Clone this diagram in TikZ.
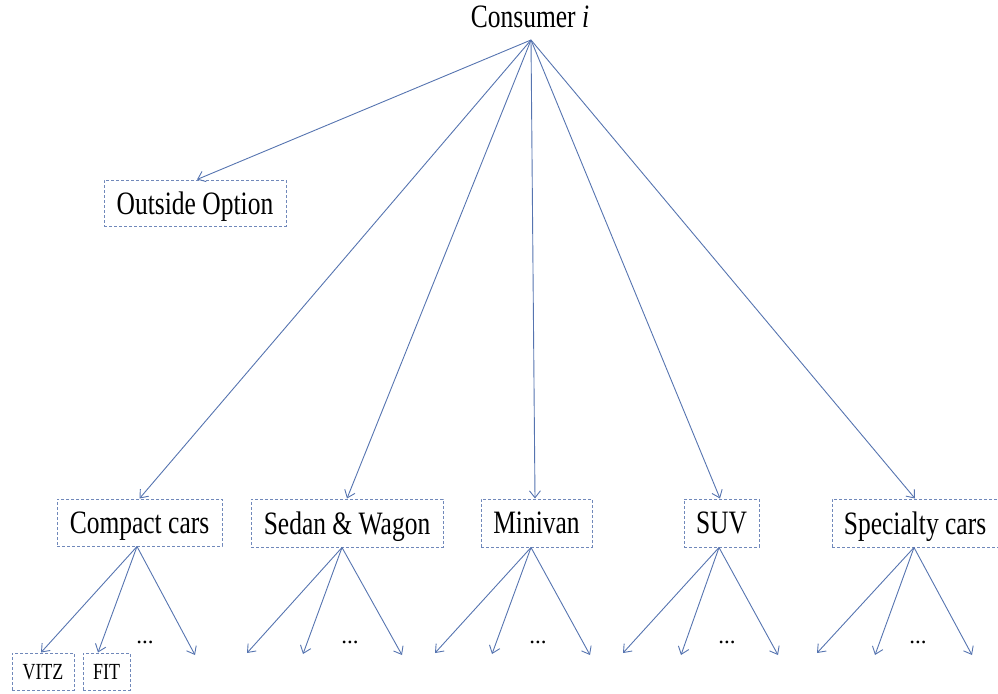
\documentclass[tikz,border=0pt]{standalone}
\usepackage{fontspec}
\setmainfont{Liberation Serif}
\usetikzlibrary{arrows.meta}
\definecolor{linec}{RGB}{86,116,176}
\definecolor{boxc}{RGB}{112,136,186}
\newcommand{\vstr}[1]{\scalebox{1}[1.28]{#1}}
\tikzset{
  conn/.style={draw=linec, line width=0.9pt, -{Straight Barb[length=7pt,width=11pt,line width=0.9pt]}},
  catbox/.style={draw=boxc, line width=1pt, dash pattern=on 3pt off 2pt, inner sep=0pt,
    font=\fontsize{25.5}{30}\selectfont, text=black, text depth=0pt},
  modbox/.style={draw=boxc, line width=1pt, dash pattern=on 3pt off 2pt, inner sep=0pt,
    font=\fontsize{18}{22}\selectfont, text=black, minimum height=37pt, text depth=0pt},
  dots/.style={inner sep=0pt, font=\fontsize{23}{26}\selectfont}
}
\begin{document}
\begin{tikzpicture}[x=1pt,y=-1pt]
\useasboundingbox (0,0) rectangle (998,693);
\clip (0,0) rectangle (998,693);
% root
\node[anchor=base, inner sep=0pt, font=\fontsize{25.5}{30}\selectfont] (root) at (530,28) {\vstr{Consumer \textit{i}}};
\coordinate (apex) at (531,40);
% categories
\node[catbox, minimum width=182pt, minimum height=46pt] (outside) at (195,203) {\vstr{Outside Option}};
\node[catbox, minimum width=165pt, minimum height=47pt] (compact) at (139.5,522.5) {\vstr{Compact cars}};
\node[catbox, minimum width=192pt, minimum height=48pt] (sedan) at (347,523) {\vstr{Sedan \& Wagon}};
\node[catbox, minimum width=111pt, minimum height=48pt] (minivan) at (536.5,523) {\vstr{Minivan}};
\node[catbox, minimum width=75pt, minimum height=48pt] (suv) at (721.5,523) {\vstr{SUV}};
\node[catbox, minimum width=166pt, minimum height=48pt] (special) at (915,523) {\vstr{Specialty cars}};
% models
\node[modbox, minimum width=62pt] (vitz) at (43,671.5) {\vstr{VITZ}};
\node[modbox, minimum width=47pt] (fit) at (106.5,671.5) {\vstr{FIT}};
% top connectors
\draw[conn] (apex) -- ([xshift=2pt]outside.north);
\draw[conn] (apex) -- (compact.north);
\draw[conn] (apex) -- (sedan.north);
\draw[conn] (apex) -- ([xshift=-1.5pt]minivan.north);
\draw[conn] (apex) -- ([xshift=-1.5pt]suv.north);
\draw[conn] (apex) -- (special.north);
% bottom source points
\coordinate (cs) at ([xshift=-2.5pt]compact.south);
\coordinate (ss) at ([xshift=-5pt]sedan.south);
\coordinate (ms) at ([xshift=-5.5pt]minivan.south);
\coordinate (us) at ([xshift=-2.5pt]suv.south);
\coordinate (ps) at ([xshift=-1pt]special.south);
% free ends
\coordinate (c3) at (195,655);
\coordinate (s1) at (247,653); \coordinate (s2) at (303,654); \coordinate (s3) at (402,655);
\coordinate (m1) at (435,653); \coordinate (m2) at (492,654); \coordinate (m3) at (590,655);
\coordinate (u1) at (623,653); \coordinate (u2) at (681,655); \coordinate (u3) at (778,655);
\coordinate (p1) at (817,653); \coordinate (p2) at (875,655); \coordinate (p3) at (972,655);
% bottom connectors
\draw[conn] (cs) -- ([xshift=-2pt]vitz.north);
\draw[conn] (cs) -- ([xshift=-8.5pt]fit.north);
\draw[conn] (cs) -- (c3);
\foreach \s/\a/\b/\c in {ss/s1/s2/s3, ms/m1/m2/m3, us/u1/u2/u3, ps/p1/p2/p3}{
  \draw[conn] (\s) -- (\a);
  \draw[conn] (\s) -- (\b);
  \draw[conn] (\s) -- (\c);
}
% dots
\node[dots] (d1) at (145,642) {...};
\node[dots] (d2) at (350,642) {...};
\node[dots] (d3) at (538,642) {...};
\node[dots] (d4) at (727,642) {...};
\node[dots] (d5) at (918,642) {...};
\end{tikzpicture}
\end{document}
